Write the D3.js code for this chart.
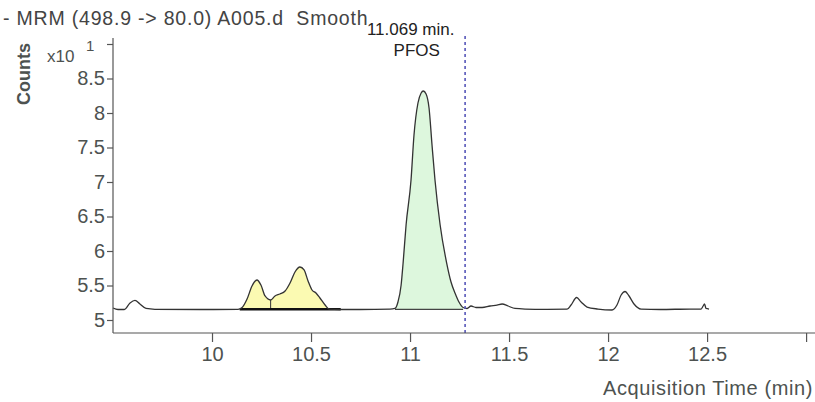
<!DOCTYPE html>
<meta charset="utf-8">
<html>
<head>
  <script src="https://d3js.org/d3.v7.min.js"></script>
  <style>
    body { margin: 0; background: #fff; }
    text { font-family: 'Liberation Sans', Arial, sans-serif; }
    .axis text { font-size: 20px; fill: #4d5250; font-family: 'Liberation Sans', Arial, sans-serif; }
    .axis line { stroke: #555; stroke-width: 1.2; }
    .axis path { display: none; }
  </style>
</head>
<body>
  <script>
    // Chromatogram trace (time in min, counts x10)
    var times = [9.500, 9.525, 9.556, 9.586, 9.611, 9.636, 9.667, 9.712, 9.939, 10.131,
      10.152, 10.177, 10.202, 10.227, 10.247, 10.268, 10.296,
      10.318, 10.343, 10.369, 10.394, 10.419, 10.444, 10.465, 10.485, 10.505, 10.525, 10.545, 10.571, 10.591,
      10.646, 10.747, 10.899,
      10.924, 10.939, 10.955, 10.965, 10.980, 11.005, 11.020, 11.040, 11.056, 11.067, 11.081, 11.096, 11.111,
      11.126, 11.152, 11.185, 11.207, 11.227, 11.247, 11.268,
      11.288, 11.308, 11.333, 11.364, 11.404, 11.439, 11.465, 11.495, 11.530, 11.581, 11.682,
      11.793, 11.813, 11.841, 11.864, 11.894, 11.949, 12.020, 12.045, 12.066, 12.086, 12.106, 12.131, 12.167,
      12.263, 12.414, 12.470, 12.480, 12.487, 12.495, 12.510];
    var counts = [5.174, 5.152, 5.152, 5.246, 5.283, 5.232, 5.167, 5.155, 5.152, 5.155,
      5.181, 5.304, 5.493, 5.580, 5.507, 5.348, 5.290,
      5.348, 5.377, 5.420, 5.536, 5.696, 5.768, 5.725, 5.565, 5.435, 5.391, 5.319, 5.217, 5.159,
      5.152, 5.152, 5.157,
      5.167, 5.261, 5.507, 5.826, 6.377, 7.029, 7.681, 8.145, 8.290, 8.319, 8.275, 8.072, 7.536,
      7.029, 6.377, 5.826, 5.551, 5.391, 5.261, 5.181,
      5.167, 5.203, 5.181, 5.181, 5.203, 5.217, 5.232, 5.203, 5.167, 5.159, 5.155,
      5.157, 5.217, 5.326, 5.261, 5.188, 5.159, 5.145, 5.217, 5.362, 5.413, 5.348, 5.232, 5.159,
      5.152, 5.159, 5.159, 5.203, 5.232, 5.167, 5.159];

    // integrated peaks: [start, end]
    var yellowPeaks = [[10.152, 10.296], [10.296, 10.591]];
    var greenPeak = [10.924, 11.268];
    var peakBase = 5.155;
    var baselineSpan = [10.14, 10.65];

    var xTicks = [10, 10.5, 11, 11.5, 12, 12.5, 13];
    var yTicks = [5, 5.5, 6, 6.5, 7, 7.5, 8, 8.5, 9];

    var markerTime = 11.278;
    var peakLabel = ['11.069 min.', 'PFOS'];

    var W = 815, H = 402;
    var svg = d3.select('body').append('svg')
      .attr('width', W).attr('height', H);

    var x = d3.scaleLinear().domain([9.5, 13.045]).range([113, 815]);
    var y = d3.scaleLinear().domain([5, 9]).range([320, 44]);

    var data = times.map((t, i) => ({ t: t, v: counts[i] }));

    // title
    svg.append('text')
      .attr('x', 3).attr('y', 25)
      .style('font-size', '19.5px').style('letter-spacing', '0.8px')
      .style('white-space', 'pre').style('fill', '#444')
      .text('- MRM (498.9 -> 80.0) A005.d  Smooth');

    // peak fills
    var area = d3.area()
      .x(d => x(d.t))
      .y0(y(peakBase))
      .y1(d => y(d.v))
      .curve(d3.curveMonotoneX);

    yellowPeaks.forEach(p => {
      svg.append('path')
        .datum(data.filter(d => d.t >= p[0] - 1e-6 && d.t <= p[1] + 1e-6))
        .attr('d', area)
        .attr('fill', '#fbfab2');
    });
    svg.append('path')
      .datum(data.filter(d => d.t >= greenPeak[0] && d.t <= greenPeak[1]))
      .attr('d', area)
      .attr('fill', '#ddf7dd');

    // valley drop line
    svg.append('line')
      .attr('x1', x(yellowPeaks[0][1])).attr('x2', x(yellowPeaks[0][1]))
      .attr('y1', y(peakBase)).attr('y2', y(5.29))
      .attr('stroke', '#333').attr('stroke-width', 1);

    // baselines
    svg.append('line')
      .attr('x1', x(baselineSpan[0])).attr('x2', x(baselineSpan[1]))
      .attr('y1', y(peakBase)).attr('y2', y(peakBase))
      .attr('stroke', '#111').attr('stroke-width', 2.5);
    svg.append('line')
      .attr('x1', x(greenPeak[0])).attr('x2', x(greenPeak[1]))
      .attr('y1', y(peakBase)).attr('y2', y(peakBase))
      .attr('stroke', '#444').attr('stroke-width', 1.2);

    // trace
    svg.append('path')
      .datum(data)
      .attr('d', d3.line().x(d => x(d.t)).y(d => y(d.v)).curve(d3.curveMonotoneX))
      .attr('fill', 'none')
      .attr('stroke', '#333')
      .attr('stroke-width', 1.3);

    // marker line
    svg.append('line')
      .attr('x1', x(markerTime)).attr('x2', x(markerTime))
      .attr('y1', 36).attr('y2', 333)
      .attr('stroke', '#4b4bb4').attr('stroke-width', 1.5)
      .attr('stroke-dasharray', '3,3');

    // peak label
    svg.append('text')
      .attr('x', x(11.069) - 13).attr('y', 35)
      .attr('text-anchor', 'middle')
      .style('font-size', '17px').style('fill', '#222')
      .text(peakLabel[0]);
    svg.append('text')
      .attr('x', x(11.069) - 7).attr('y', 56)
      .attr('text-anchor', 'middle')
      .style('font-size', '17px').style('fill', '#222')
      .text(peakLabel[1]);

    // X axis (last tick label falls outside the view, as in the original)
    svg.append('line')
      .attr('x1', 113).attr('x2', 815).attr('y1', 333).attr('y2', 333)
      .attr('stroke', '#555').attr('stroke-width', 1.2);
    svg.append('g')
      .attr('class', 'axis')
      .attr('transform', 'translate(0,333)')
      .call(d3.axisBottom(x).tickValues(xTicks).tickSize(9).tickSizeOuter(0).tickPadding(5)
        .tickFormat(d => d === 13 ? '' : d3.format('')(d)));

    svg.append('text')
      .attr('x', 813).attr('y', 395)
      .attr('text-anchor', 'end')
      .style('font-size', '20px').style('letter-spacing', '0.6px').style('fill', '#4d5250')
      .text('Acquisition Time (min)');

    // Y axis
    svg.append('line')
      .attr('x1', 113).attr('x2', 113).attr('y1', 38).attr('y2', 333)
      .attr('stroke', '#555').attr('stroke-width', 1.2);
    svg.append('g')
      .attr('class', 'axis')
      .attr('transform', 'translate(113,0)')
      .call(d3.axisLeft(y).tickValues(yTicks).tickSize(6).tickSizeOuter(0).tickPadding(2)
        .tickFormat(d => d === 9 ? '' : d3.format('')(d)));

    svg.append('text')
      .attr('x', 47).attr('y', 62)
      .style('font-size', '17px').style('fill', '#4d5250')
      .text('x10');
    svg.append('text')
      .attr('x', 86).attr('y', 51)
      .style('font-size', '15px').style('fill', '#4d5250')
      .text('1');

    svg.append('text')
      .attr('transform', 'translate(30,74) rotate(-90)')
      .attr('text-anchor', 'middle')
      .style('font-size', '18px').style('font-weight', 'bold').style('fill', '#4d5250')
      .text('Counts');
  </script>
</body>
</html>
